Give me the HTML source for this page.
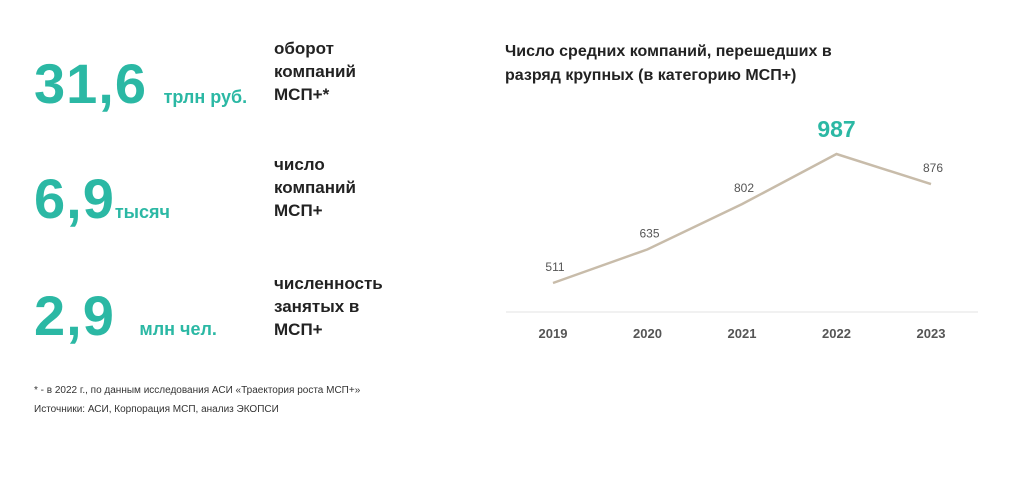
<!DOCTYPE html>
<html><head><meta charset="utf-8">
<style>
body{margin:0;width:1024px;height:480px;background:#fff;font-family:"Liberation Sans",sans-serif;position:relative;overflow:hidden}
.big{position:absolute;left:34px;font-size:56px;font-weight:bold;color:#2bb8a4;line-height:1;letter-spacing:1px}
.unit{font-size:18px;font-weight:bold;color:#2bb8a4;letter-spacing:0}
.desc{position:absolute;left:274px;font-size:17px;font-weight:bold;color:#222;line-height:23px}
.note{position:absolute;left:34px;font-size:10px;color:#333}
.title{position:absolute;left:505px;top:40px;font-size:16px;font-weight:bold;color:#222;line-height:24px}
</style></head><body>
<div class="big" style="top:56px">31,6 <span class="unit">трлн руб.</span></div>
<div class="desc" style="top:37px">оборот<br>компаний<br>МСП+*</div>
<div class="big" style="top:171px">6,9<span class="unit">тысяч</span></div>
<div class="desc" style="top:153px">число<br>компаний<br>МСП+</div>
<div class="big" style="top:288px">2,9 <span class="unit" style="margin-left:8px">млн чел.</span></div>
<div class="desc" style="top:272px">численность<br>занятых в<br>МСП+</div>
<div class="note" style="top:385px">* - в 2022 г., по данным исследования АСИ «Траектория роста МСП+»</div>
<div class="note" style="top:404px">Источники: АСИ, Корпорация МСП, анализ ЭКОПСИ</div>
<div class="title">Число средних компаний, перешедших в<br>разряд крупных (в категорию МСП+)</div>
<svg id="chart" width="1024" height="480" style="position:absolute;left:0;top:0"></svg>
<script>
const years=["2019","2020","2021","2022","2023"];
const values=[511,635,802,987,876];
const highlight=[false,false,false,true,false];
const svg=document.getElementById('chart');
const NS="http://www.w3.org/2000/svg";
const x=i=>553+i*94.5;
const y=v=>283-(v-511)*0.271;
function mk(t,a){const e=document.createElementNS(NS,t);for(const k in a)e.setAttribute(k,a[k]);svg.appendChild(e);return e;}
const ax=mk('line',{x1:506,x2:978,y1:312,y2:312,stroke:'#e3e3e3','stroke-width':1});


const pl=mk('polyline',{points:values.map((v,i)=>x(i)+','+y(v)).join(' '),fill:'none',stroke:'#c8bcaa','stroke-width':2.5});


years.forEach((yr,i)=>{
 const t=mk('text',{x:x(i),y:338,'text-anchor':'middle','font-size':13,'font-weight':'bold',fill:'#555','font-family':'Liberation Sans'});
 t.textContent=yr;
 
 
 const h=highlight[i];
 const l=mk('text',{x:x(i)+(h?0:2),y:y(values[i])-(h?17:12),'text-anchor':'middle','font-size':h?23:12,'font-weight':h?'bold':'normal',fill:h?'#2bb8a4':'#555','font-family':'Liberation Sans'});
 l.textContent=values[i];
 
 
});
</script>
</body></html>
